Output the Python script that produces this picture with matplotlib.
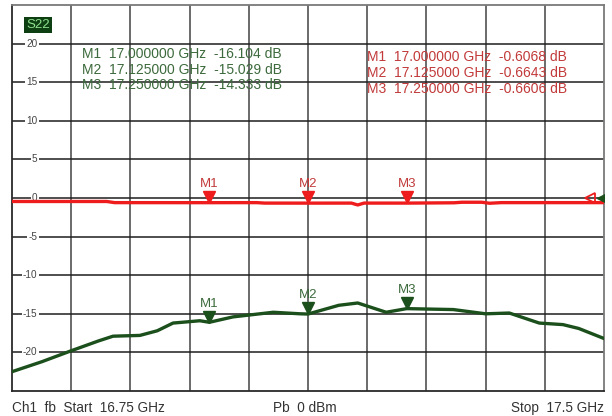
import matplotlib
matplotlib.use("Agg")
import matplotlib.pyplot as plt
import numpy as np

plt.rcParams['font.family'] = ['Liberation Sans', 'DejaVu Sans']

# S22 magnitude trace (GHz, dB)
green_freq = [16.750, 16.788, 16.826, 16.860, 16.878, 16.912, 16.934, 16.954,
              16.988, 17.000, 17.030, 17.081, 17.115, 17.125, 17.164, 17.188,
              17.224, 17.250, 17.309, 17.350, 17.380, 17.418, 17.448, 17.468,
              17.500]
green_db = [-22.5, -21.2, -19.75, -18.5, -17.9, -17.8, -17.2, -16.2,
            -15.9, -16.1, -15.4, -14.8, -15.0, -15.03, -13.9, -13.6,
            -14.8, -14.33, -14.45, -15.0, -14.9, -16.2, -16.4, -16.9,
            -18.2]

# Second trace, near 0 dB
red_freq = [16.750, 16.870, 16.880, 17.000, 17.060, 17.070, 17.125, 17.180,
            17.188, 17.196, 17.250, 17.310, 17.320, 17.345, 17.355, 17.370,
            17.500]
red_db = [-0.45, -0.45, -0.60, -0.607, -0.60, -0.66, -0.664, -0.66,
          -0.90, -0.66, -0.661, -0.62, -0.55, -0.55, -0.68, -0.60,
          -0.60]

marker_names = ['M1', 'M2', 'M3']
marker_freq = [17.000, 17.125, 17.250]
green_marker_db = [-16.104, -15.029, -14.333]
red_marker_db = [-0.6068, -0.6643, -0.6606]

y_ticks = [20, 15, 10, 5, 0, -5, -10, -15, -20]

GREEN = '#1b4f1b'
GREEN_TXT = '#3c6a3c'
RED = '#ee1c1c'
RED_TXT = '#c23a3a'

fig = plt.figure(figsize=(6.12, 4.16), dpi=100)
ax = fig.add_axes([12 / 612, 25 / 416, 592 / 612, 386 / 416])
ax.set_xlim(16.75, 17.5)
ax.set_ylim(-25, 25)
ax.set_xticks([])
ax.set_yticks([])

# graticule
for xv in np.linspace(16.75, 17.5, 11)[1:-1]:
    ax.axvline(xv, color='#6a6a6a', lw=1.4, zorder=1)
for yv in y_ticks:
    ax.axhline(yv, color='#1e1e1e', lw=1.1, zorder=1)
for side, sp in ax.spines.items():
    sp.set_linewidth(1.3)
    sp.set_color('#7a7a7a' if side in ('top', 'right') else '#2a2a2a')

for yv in y_ticks:
    ax.text(16.7825, yv, str(yv), ha='right', va='center', fontsize=7.2,
            color='#444444', zorder=3,
            bbox=dict(boxstyle='square,pad=0.15', fc='white', ec='none'))

ax.plot(green_freq, green_db, color=GREEN, lw=2.4, zorder=4, solid_joinstyle='round')
ax.plot(red_freq, red_db, color=RED, lw=2.4, zorder=4)

# markers
for name, f, g, r in zip(marker_names, marker_freq, green_marker_db, red_marker_db):
    ax.plot(f, g + 0.75, marker='v', ms=9, color=GREEN, zorder=5)
    ax.text(f, g + 1.65, name, ha='center', va='bottom', fontsize=9.5,
            color=GREEN_TXT, zorder=5)
    ax.plot(f, r + 0.75, marker='v', ms=9, color=RED, zorder=5)
    ax.text(f, r + 1.65, name, ha='center', va='bottom', fontsize=9.5,
            color=RED_TXT, zorder=5)

# reference level pointers at the right edge
ax.plot(17.482, 0.0, marker='<', ms=7, mfc='none', mec=RED, mew=1.3, zorder=6)
ax.plot(17.499, 0.0, marker='<', ms=8, color=GREEN, zorder=6, clip_on=True)

# marker readouts
for i, (name, f, g) in enumerate(zip(marker_names, marker_freq, green_marker_db)):
    ax.text(16.8385, 18.1 - i * 2.01, f'{name}  {f:.6f} GHz  {g:.3f} dB',
            fontsize=10, color=GREEN_TXT, va='baseline', ha='left', zorder=5)
for i, (name, f, r) in enumerate(zip(marker_names, marker_freq, red_marker_db)):
    ax.text(17.2, 17.78 - i * 2.07, f'{name}  {f:.6f} GHz  {r:.4f} dB',
            fontsize=10, color=RED_TXT, va='baseline', ha='left', zorder=5)

# trace label
ax.text(16.768, 22.4, 'S22', fontsize=9.5, color='#8fe08f', va='center', ha='left',
        zorder=6, bbox=dict(boxstyle='square,pad=0.15', fc='#0e3f12', ec='none'))

# channel status line
fig.text(12 / 612, 8 / 416, 'Ch1  fb  Start  16.75 GHz', fontsize=9.8,
         color='#333333', ha='left', va='center')
fig.text(273 / 612, 8 / 416, 'Pb  0 dBm', fontsize=9.8,
         color='#333333', ha='left', va='center')
fig.text(604 / 612, 8 / 416, 'Stop  17.5 GHz', fontsize=9.8,
         color='#333333', ha='right', va='center')

fig.savefig('out.png', dpi=100)
